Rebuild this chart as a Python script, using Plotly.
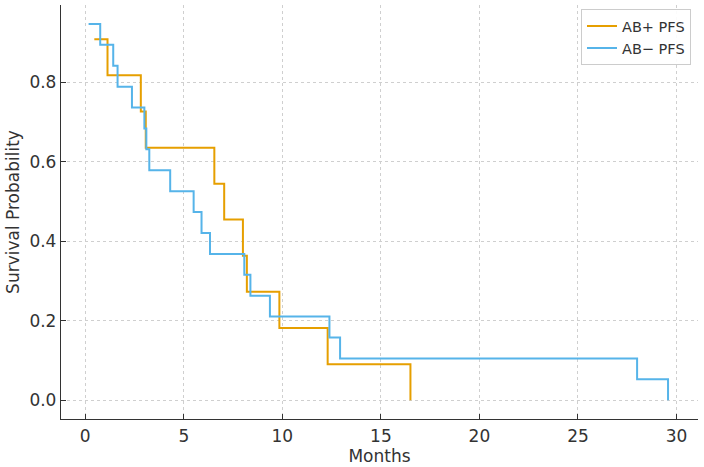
import plotly.graph_objects as go

# AB+ PFS (Kaplan-Meier step points)
ab_pos_months = [0.46, 1.13, 2.82, 3.07, 6.55, 7.05, 8.0, 8.2, 9.85, 12.3, 16.5]
ab_pos_surv = [0.909, 0.818, 0.727, 0.636, 0.545, 0.455, 0.364, 0.273, 0.182, 0.091, 0.0]

# AB- PFS
ab_neg_months = [0.17, 0.76, 1.42, 1.64, 2.37, 3.0, 3.1, 3.25, 4.31, 5.5, 5.9, 6.33,
                 8.07, 8.38, 9.37, 12.39, 12.93, 28.0, 29.57]
ab_neg_surv = [0.947, 0.895, 0.842, 0.789, 0.737, 0.684, 0.632, 0.579, 0.526, 0.474,
               0.421, 0.368, 0.316, 0.263, 0.211, 0.158, 0.105, 0.053, 0.0]

x_ticks = [0, 5, 10, 15, 20, 25, 30]
y_ticks = [0.0, 0.2, 0.4, 0.6, 0.8]

font = "DejaVu Sans"

fig = go.Figure()
fig.add_trace(go.Scatter(x=ab_pos_months, y=ab_pos_surv, mode="lines", line_shape="hv",
                         name="AB+ PFS", line=dict(color="#E69F00", width=2)))
fig.add_trace(go.Scatter(x=ab_neg_months, y=ab_neg_surv, mode="lines", line_shape="hv",
                         name="AB\u2212 PFS", line=dict(color="#56B4E9", width=2)))

axis_common = dict(showline=True, linecolor="#333333", linewidth=1.3, ticks="inside",
                   ticklen=5, tickcolor="#333333", tickwidth=1.2,
                   showgrid=True, gridcolor="#cfcfcf",
                   griddash="3px,3px", gridwidth=1, zeroline=False, mirror=False,
                   tickfont=dict(family=font, size=17, color="#333333"))

fig.update_xaxes(range=[-1.23, 31.09], tickvals=x_ticks, ticklabelstandoff=1,
                 title=dict(text="Months", font=dict(family=font, size=17, color="#333333"), standoff=4),
                 **axis_common)
fig.update_yaxes(range=[-0.047, 0.995], tickvals=y_ticks, tickformat=".1f", ticklabelstandoff=0,
                 title=dict(text="Survival Probability", font=dict(family=font, size=17, color="#333333"), standoff=5),
                 **axis_common)

fig.update_layout(
    width=704, height=467,
    margin=dict(l=61, r=6, t=5, b=48),
    paper_bgcolor="white", plot_bgcolor="white",
    font=dict(family=font, color="#333333"),
    legend=dict(x=0.989, y=0.99, xanchor="right", yanchor="top",
                bgcolor="rgba(255,255,255,0.9)", bordercolor="#cccccc", borderwidth=1,
                font=dict(family=font, size=14.5, color="#333333")),
    showlegend=True,
)

fig.write_html("out.html")
